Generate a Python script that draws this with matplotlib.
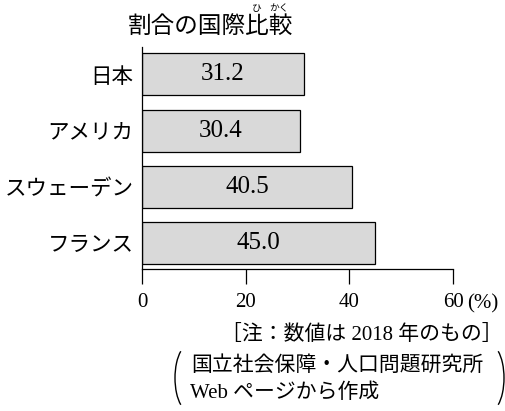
import matplotlib.pyplot as plt
from matplotlib.patches import Arc

plt.rcParams['font.family'] = ['Liberation Serif', 'Noto Sans CJK JP']

# data
countries = ['日本', 'アメリカ', 'スウェーデン', 'フランス']
values = [31.2, 30.4, 40.5, 45.0]
xticks = [0, 20, 40, 60]
xtick_labels = ['0', '20', '40', '60']

W, H = 505, 411
fig = plt.figure(figsize=(W / 100, H / 100), dpi=100)
ax = fig.add_axes([142 / W, 1 - 269 / H, (453 - 142) / W, (269 - 47) / H])

ypos = list(range(len(countries)))
ax.barh(ypos, values, height=0.75, color='#d9d9d9', edgecolor='black', linewidth=0.9)
for y, v in zip(ypos, values):
    ax.text(v / 2, y, f'{v:.1f}', ha='center', va='center', fontsize=18,
            family=['Liberation Serif'])

ax.set_xlim(0, 60)
ax.set_ylim(len(countries) - 0.53, -0.49)
ax.set_yticks(ypos)
ax.set_yticklabels(countries, fontsize=15.5, family=['Noto Sans CJK JP'])
ax.tick_params(axis='y', length=0, pad=6)
ax.set_xticks(xticks)
ax.set_xticklabels(xtick_labels, fontsize=15)
ax.tick_params(axis='x', direction='out', length=11, width=0.9, pad=6)
for s in ['top', 'right']:
    ax.spines[s].set_visible(False)
ax.spines['left'].set_linewidth(0.9)
ax.spines['bottom'].set_linewidth(0.9)


def px(x, y):
    return x / W, 1 - y / H


fig.text(*px(467, 304), '(%)', ha='left', va='center', fontsize=15)

# title with ruby
fig.text(*px(210, 26), '割合の国際比較', ha='center', va='center', fontsize=17,
         family=['Noto Sans CJK JP'])
fig.text(*px(257, 8), 'ひ', ha='center', va='center', fontsize=7, family=['Noto Sans CJK JP'])
fig.text(*px(279, 8), 'かく', ha='center', va='center', fontsize=7, family=['Noto Sans CJK JP'])

# notes
fig.text(*px(503, 335), '［注：数値は 2018 年のもの］', ha='right', va='center', fontsize=15)
fig.text(*px(191, 366), '国立社会保障・人口問題研究所', ha='left', va='center', fontsize=15)
fig.text(*px(190, 393), 'Web ページから作成', ha='left', va='center', fontsize=15)

# big parentheses around the source lines
for cx, t1, t2 in [(189, 104, 256), (490, -76, 76)]:
    fig.patches.append(Arc(px(cx, 378), 28 / W, 66 / H, theta1=t1, theta2=t2,
                           transform=fig.transFigure, color='black', lw=1.0))

fig.savefig('out.png', dpi=100)
